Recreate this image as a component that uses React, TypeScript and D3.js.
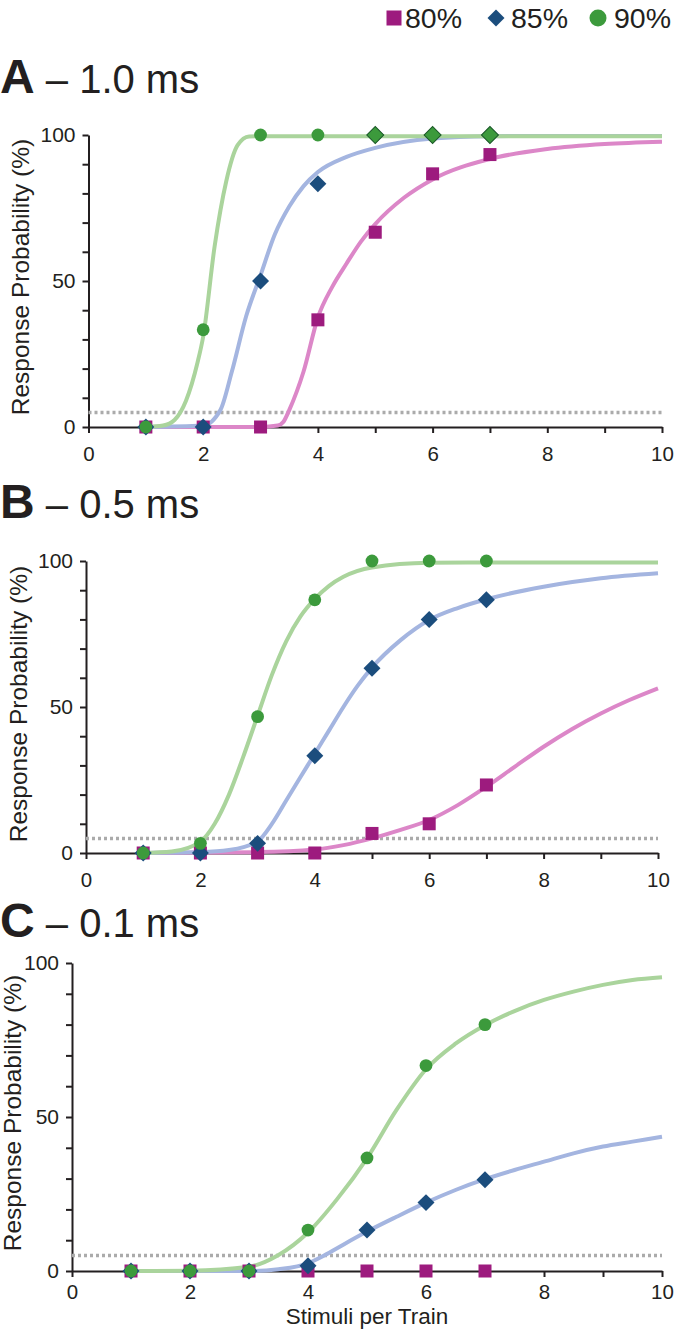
import React, { ReactElement, useEffect, useRef } from "react";
import * as d3 from "d3";

type Pt = [number, number];

const FONT = "'Liberation Sans', Arial, Helvetica, sans-serif";
const INK = "#231f20";

const stimuli = [1, 2, 3, 4, 5, 6, 7];
const seriesLabels = ["80%", "85%", "90%"];
const panelLetters = ["A", "B", "C"];
const pulseWidths = ["1.0 ms", "0.5 ms", "0.1 ms"];
const xTicks = [0, 1, 2, 3, 4, 5, 6, 7, 8, 9, 10];
const yTicks = [0, 10, 20, 30, 40, 50, 60, 70, 80, 90, 100];
const threshold = 5;

// observed response probabilities, 1.0 ms
const a80 = [0, 0, 0, 36.7, 66.7, 86.7, 93.3];
const a85 = [0, 0, 50, 83.3, 100, 100, 100];
const a90 = [0, 33.3, 100, 100, 100, 100, 100];
// 0.5 ms
const b80 = [0, 0, 0, 0, 6.7, 10, 23.3];
const b85 = [0, 0, 3.3, 33.3, 63.3, 80, 86.7];
const b90 = [0, 3.3, 46.7, 86.7, 100, 100, 100];
// 0.1 ms
const c80 = [0, 0, 0, 0, 0, 0, 0];
const c85 = [0, 0, 0, 1.7, 13.3, 22.2, 29.6];
const c90 = [0, 0, 0, 13.3, 36.7, 66.7, 80];

// fitted curves, read point by point
const fitA80: Pt[] = [[1, 0], [2, 0], [3, 0], [3.3, 0.5], [3.4, 1.8], [3.5, 5.8], [3.75, 19], [4, 37.5], [4.25, 48], [4.5, 56], [4.75, 63.5], [5, 69.5], [5.5, 78.5], [6, 84.8], [7, 91.8], [8, 95.2], [9, 96.9], [10, 97.7]];
const fitA85: Pt[] = [[1, 0], [2, 0.5], [2.3, 5.8], [2.5, 19], [2.75, 38], [3, 52], [3.25, 66], [3.5, 75.5], [3.75, 82.5], [4, 87.3], [4.5, 92.5], [5, 95.6], [6, 98.8], [7, 99.6], [8, 99.7], [10, 99.7]];
const fitA90: Pt[] = [[1, 0], [1.3, 0.5], [1.5, 2.4], [1.7, 9], [1.9, 22], [2, 31], [2.2, 62], [2.4, 84], [2.6, 96.5], [2.8, 99.5], [3, 99.6], [10, 99.6]];

const fitB80: Pt[] = [[1, 0], [3, 0.3], [4, 1.2], [4.5, 2.7], [5, 5], [5.5, 7.9], [6, 11.3], [6.5, 16.4], [7, 22.7], [7.5, 29.6], [8, 36.4], [8.5, 42.5], [9, 47.8], [9.5, 52.4], [10, 56.4]];
const fitB85: Pt[] = [[1, 0], [2, 0.3], [2.5, 1], [3, 4], [3.25, 10], [3.5, 18], [3.75, 26], [4, 34], [4.25, 42], [4.5, 50], [4.75, 57.3], [5, 63.5], [5.5, 72.9], [6, 79.8], [6.5, 83.9], [7, 86.9], [8, 91.2], [9, 94.1], [10, 95.8]];
const fitB90: Pt[] = [[1, 0], [1.5, 0.5], [2, 3.9], [2.25, 10], [2.5, 20], [2.75, 33], [3, 47], [3.25, 61], [3.5, 72.5], [3.75, 81], [4, 87], [4.25, 91.5], [4.5, 94.6], [5, 97.8], [6, 99.4], [7, 99.5], [10, 99.5]];

const fitC85: Pt[] = [[1, 0], [3, 0], [3.5, 0.6], [4, 2.5], [4.25, 4.8], [4.5, 7.5], [5, 12.8], [5.5, 17.6], [6, 22.2], [6.5, 26.3], [7, 29.8], [7.5, 32.8], [8, 35.5], [8.5, 38.2], [9, 40.4], [9.5, 42], [10, 43.6]];
const fitC90: Pt[] = [[1, 0], [2, 0.1], [3, 1.4], [3.5, 5.2], [4, 12.5], [4.5, 23.5], [5, 36.6], [5.5, 52.3], [6, 65.5], [6.5, 73.8], [7, 79.8], [7.5, 84.4], [8, 88], [8.5, 90.7], [9, 92.9], [9.5, 94.5], [10, 95.4]];

// 90% points that were plotted with the diamond marker
const a90DiamondAt = [5, 6, 7];

const markerColors = ["#9d1b7e", "#1b4d7d", "#3c9a3c"];
const curveColors = ["#dc87c8", "#a4b5e0", "#aad49c"];

interface Panel {
  letter: string;
  pulse: string;
  values: number[][];
  fits: (Pt[] | null)[];
  diamondAt: number[];
  left: number;
  right: number;
  top: number;
  bottom: number;
  titleY: number;
  yTitleX: number;
  yTitleY: number;
  xPad: number;
}

const panels: Panel[] = [
  { letter: panelLetters[0], pulse: pulseWidths[0], values: [a80, a85, a90], fits: [fitA80, fitA85, fitA90], diamondAt: a90DiamondAt,
    left: 88.5, right: 662, top: 135, bottom: 427, titleY: 93, yTitleX: 28.5, yTitleY: 277, xPad: 13 },
  { letter: panelLetters[1], pulse: pulseWidths[1], values: [b80, b85, b90], fits: [fitB80, fitB85, fitB90], diamondAt: [],
    left: 86, right: 658, top: 561, bottom: 853, titleY: 518, yTitleX: 27, yTitleY: 704, xPad: 13 },
  { letter: panelLetters[2], pulse: pulseWidths[2], values: [c80, c85, c90], fits: [null, fitC85, fitC90], diamondAt: [],
    left: 72, right: 662, top: 963, bottom: 1271, titleY: 937, yTitleX: 20.5, yTitleY: 1113, xPad: 7 },
];

const diamondPath = d3.symbol(d3.symbolSquare, 144)() || "";

function drawPanel(svg: d3.Selection<SVGSVGElement, unknown, null, undefined>, p: Panel) {
  const x = d3.scaleLinear().domain([0, 10]).range([p.left, p.right]);
  const y = d3.scaleLinear().domain([0, 100]).range([p.bottom, p.top]);
  const g = svg.append("g");

  const title = g.append("text").attr("x", 0).attr("y", p.titleY).attr("font-family", FONT).attr("fill", INK);
  title.append("tspan").attr("font-weight", "bold").attr("font-size", 48).text(p.letter);
  title.append("tspan").attr("font-size", 40).text(` \u2013 ${p.pulse}`);

  g.append("text")
    .attr("transform", `translate(${p.yTitleX},${p.yTitleY}) rotate(-90)`)
    .attr("text-anchor", "middle")
    .attr("font-family", FONT)
    .attr("font-size", 24.5)
    .attr("fill", INK)
    .text("Response Probability (%)");

  const yAxis = g.append("g").attr("transform", `translate(${p.left},0)`).call(
    d3.axisLeft(y).tickValues(yTicks).tickSize(6).tickSizeOuter(0).tickPadding(7)
      .tickFormat((d) => (+d % 50 === 0 ? String(d) : ""))
  );
  const xAxis = g.append("g").attr("transform", `translate(0,${p.bottom})`).call(
    d3.axisBottom(x).tickValues(xTicks).tickSize(6).tickSizeOuter(0).tickPadding(p.xPad)
      .tickFormat((d) => (+d % 2 === 0 ? String(d) : ""))
  );
  [yAxis, xAxis].forEach((a) => {
    a.selectAll("path, line").attr("stroke", INK).attr("stroke-width", 2);
    a.selectAll("text").attr("font-family", FONT).attr("fill", INK);
  });
  yAxis.selectAll("text").attr("font-size", 21);
  xAxis.selectAll("text").attr("font-size", 20.5);

  g.append("line")
    .attr("x1", x(0)).attr("x2", x(10))
    .attr("y1", y(threshold)).attr("y2", y(threshold))
    .attr("stroke", "#ababab").attr("stroke-width", 3.5).attr("stroke-dasharray", "3 3");

  const line = d3.line<Pt>().x((d) => x(d[0])).y((d) => y(d[1])).curve(d3.curveMonotoneX);
  p.fits.forEach((fit, i) => {
    if (!fit) return;
    g.append("path").attr("d", line(fit)).attr("fill", "none")
      .attr("stroke", curveColors[i]).attr("stroke-width", 4).attr("stroke-linejoin", "round");
  });

  // squares
  g.append("g").selectAll("rect").data(p.values[0]).enter().append("rect")
    .attr("x", (_, j) => x(stimuli[j]) - 6.5).attr("y", (d) => y(d) - 6.5)
    .attr("width", 13).attr("height", 13).attr("fill", markerColors[0]);
  // diamonds
  g.append("g").selectAll("path").data(p.values[1]).enter().append("path")
    .attr("d", diamondPath)
    .attr("transform", (d, j) => `translate(${x(stimuli[j])},${y(d)}) rotate(45)`)
    .attr("fill", markerColors[1]);
  // circles, or diamonds where the 90% series used that marker
  const top = g.append("g");
  p.values[2].forEach((d, j) => {
    const cx = x(stimuli[j]);
    if (p.diamondAt.includes(stimuli[j])) {
      top.append("path").attr("d", diamondPath)
        .attr("transform", `translate(${cx},${y(d)}) rotate(45)`)
        .attr("fill", markerColors[2]).attr("stroke", "#1f5c2a").attr("stroke-width", 1);
    } else {
      top.append("circle").attr("cx", cx).attr("cy", y(d)).attr("r", 6.4).attr("fill", markerColors[2]);
    }
  });
}

function App(): ReactElement {
  const ref = useRef<SVGSVGElement>(null);

  useEffect(() => {
    const svg = d3.select(ref.current as SVGSVGElement);
    svg.selectAll("*").remove();

    panels.forEach((p) => drawPanel(svg, p));

    // x axis title under the last panel
    const last = panels[panels.length - 1];
    svg.append("text")
      .attr("x", (last.left + last.right) / 2).attr("y", 1324)
      .attr("text-anchor", "middle").attr("font-family", FONT).attr("font-size", 22.5).attr("fill", INK)
      .text("Stimuli per Train");

    // legend
    const legendX = [394, 496, 598];
    const textX = [405, 511, 614];
    const lg = svg.append("g");
    lg.append("rect").attr("x", legendX[0] - 7.5).attr("y", 10.5).attr("width", 15).attr("height", 15).attr("fill", markerColors[0]);
    lg.append("path").attr("d", d3.symbol(d3.symbolSquare, 144)() || "")
      .attr("transform", `translate(${legendX[1]},18) rotate(45)`).attr("fill", markerColors[1]);
    lg.append("circle").attr("cx", legendX[2]).attr("cy", 18).attr("r", 8.5).attr("fill", markerColors[2]);
    seriesLabels.forEach((s, i) => {
      lg.append("text").attr("x", textX[i]).attr("y", 27.5)
        .attr("font-family", FONT).attr("font-size", 28.5).attr("fill", INK).text(s);
    });
  }, []);

  return (
    <svg
      ref={ref}
      width={677}
      height={1329}
      style={{ position: "absolute", left: 0, top: 0, background: "#fff" }}
    />
  );
}

export default App;
